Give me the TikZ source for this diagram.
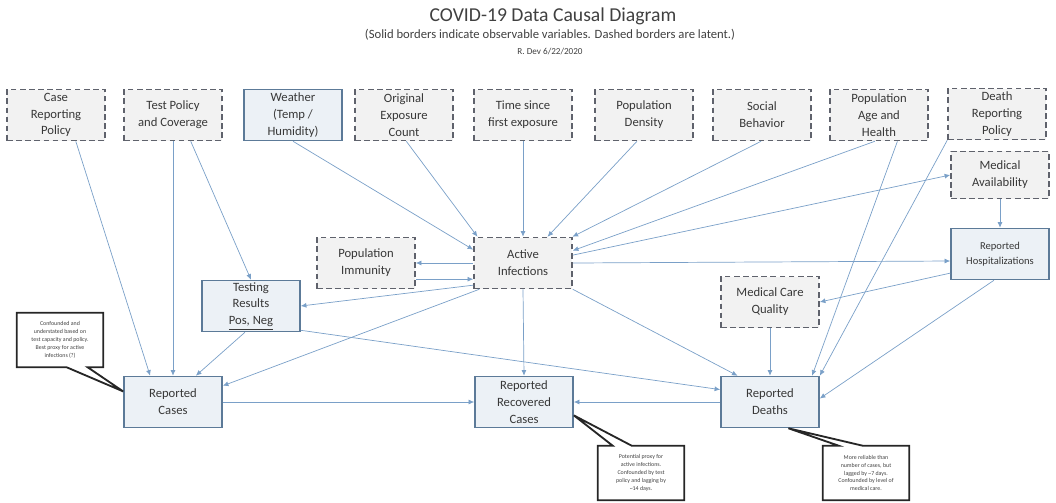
\documentclass[tikz,border=0pt]{standalone}
\usepackage{fontspec}
\setmainfont{Carlito}
\usetikzlibrary{arrows.meta,calc}

\definecolor{edgeblue}{RGB}{122,160,200}
\definecolor{obsline}{RGB}{92,122,152}
\definecolor{latline}{RGB}{95,98,108}
\definecolor{boxfill}{RGB}{242,242,242}
\definecolor{obsfill}{RGB}{236,241,246}

\begin{document}
\begin{tikzpicture}[
  x=0.025cm, y=-0.025cm,
  font=\fontsize{9}{12}\selectfont,
  var/.style={fill=boxfill, text=black!78, minimum width=2.45cm, minimum height=1.275cm, inner sep=1pt, align=center},
  obs/.style={var, draw=obsline, line width=1.1pt, fill=obsfill},
  lat/.style={var, draw=latline, line width=1.1pt, dash pattern=on 4pt off 2.5pt},
  arr/.style={draw=edgeblue, line width=0.5pt, -{Latex[length=4pt,width=3.5pt]}},
  note/.style={font=\fontsize{4.2}{5.6}\selectfont, text=black!75, align=center, minimum width=2.15cm, minimum height=1.35cm, inner sep=1pt},
  bubble/.style={draw=black!85, line width=1.3pt, line join=miter}
]
\useasboundingbox (0,0) rectangle (1056,502);
% ---------------- heading ----------------
\node[font=\fontsize{14}{16}\selectfont, text=black!75] (ttl) at (553,16) {COVID-19 Data Causal Diagram};
\node[font=\fontsize{9}{11}\selectfont, text=black!75] (sub) at (550,35) {(Solid borders indicate observable variables. Dashed borders are latent.)};
\node[font=\fontsize{6.5}{8}\selectfont, text=black!75] (dte) at (550,52) {R. Dev 6/22/2020};
% ---------------- top row ----------------
\node[lat] (crp) at (56,115) {Case\\Reporting\\Policy};
\node[lat] (tpc) at (173,115) {Test Policy\\and Coverage};
\node[obs] (wth) at (293,115) {Weather\\(Temp /\\Humidity)};
\node[lat] (oec) at (404,115) {Original\\Exposure\\Count};
\node[lat] (tfe) at (523,115) {Time since\\first exposure};
\node[lat] (pden) at (644,115) {Population\\Density};
\node[lat] (soc) at (762,115) {Social\\Behavior};
\node[lat] (pah) at (879,115) {Population\\Age and\\Health};
\node[lat] (drp) at (997,114) {Death\\Reporting\\Policy};
% ---------------- middle ----------------
\node[lat, minimum height=1.18cm] (medav) at (1000,175) {Medical\\Availability};
\node[obs, font=\fontsize{7.5}{11}\selectfont] (rhosp) at (1000,254) {Reported\\Hospitalizations};
\node[lat] (pimm) at (366,263) {Population\\Immunity};
\node[lat] (actinf) at (523,263) {Active\\Infections};
\node[obs] (tres) at (251,306) {Testing\\Results\\\underline{Pos, Neg}};
\node[lat] (mcq) at (770,302) {Medical Care\\Quality};
% ---------------- bottom row ----------------
\node[obs] (rcases) at (173,402) {Reported\\Cases};
\node[obs] (rrec) at (524,402) {Reported\\Recovered\\Cases};
\node[obs] (rdeaths) at (770,402) {Reported\\Deaths};
% ---------------- causal links ----------------
\draw[arr] (crp.-53) -- (rcases.131);
\draw[arr] (tpc.south) -- (rcases.north);
\draw[arr] (tpc.-56) -- (tres.north);
\draw[arr] (wth.south) -- (actinf.165);
\draw[arr] (oec.-85) -- (actinf.150);
\draw[arr] (tfe.south) -- (actinf.north);
\draw[arr] (pden.-105) -- (actinf.47);
\draw[arr] (soc.-92) -- (actinf.28);
\draw[arr] (pah.-99) -- (actinf.14);
\draw[arr] (pah.-55) -- (rdeaths.32);
\draw[arr] (drp.south west) -- (rdeaths.north east);
\draw[arr] (actinf.9) -- (medav.west);
\draw[arr] (medav.south) -- (rhosp.north);
\draw[arr] (actinf.east) -- (rhosp.188);
\draw[arr] (rhosp.201) -- (mcq.east);
\draw[arr] (rhosp.-103) -- (rdeaths.4);
\draw[arr] (mcq.south) -- (rdeaths.north);
\draw[arr] (actinf.west) -- (pimm.east);
\draw[arr] (pimm.-18) -- (actinf.198);
\draw[arr] (actinf.204) -- (tres.east);
\draw[arr] (actinf.211) -- (rcases.18);
\draw[arr] (actinf.south) -- (rrec.north);
\draw[arr] (actinf.south east) -- (rdeaths.141);
\draw[arr] (tres.-103) -- (rcases.49);
\draw[arr] (tres.-26) -- (rdeaths.166);
\draw[arr] (rcases.east) -- (rrec.west);
\draw[arr] (rdeaths.west) -- (rrec.east);
% ---------------- notes ----------------
\node[note] (ncases) at (60,340) {Confounded and\\understated based on\\test capacity and policy.\\Best proxy for active\\infections (?)};
\draw[bubble] (ncases.north west) -- (ncases.north east) -- (ncases.south east)
  -- ($(ncases.south west)+(71,0)$) -- (rcases.168) -- ($(ncases.south west)+(50,0)$)
  -- (ncases.south west) -- cycle;
\node[note] (nrec) at (641,473) {Potential proxy for\\active infections.\\Confounded by test\\policy and lagging by\\\textasciitilde14 days.};
\draw[bubble] (nrec.north west) -- ($(nrec.north west)+(15,0)$) -- (rrec.-15)
  -- ($(nrec.north west)+(34,0)$) -- (nrec.north east) -- (nrec.south east)
  -- (nrec.south west) -- cycle;
\node[note] (ndeaths) at (866,473) {More reliable than\\number of cases, but\\lagged by \textasciitilde7 days.\\Confounded by level of\\medical care.};
\draw[bubble] (ndeaths.north west) -- ($(ndeaths.north west)+(16,0)$) -- (rdeaths.-55)
  -- ($(ndeaths.north west)+(40,0)$) -- (ndeaths.north east) -- (ndeaths.south east)
  -- (ndeaths.south west) -- cycle;
\end{tikzpicture}
\end{document}
